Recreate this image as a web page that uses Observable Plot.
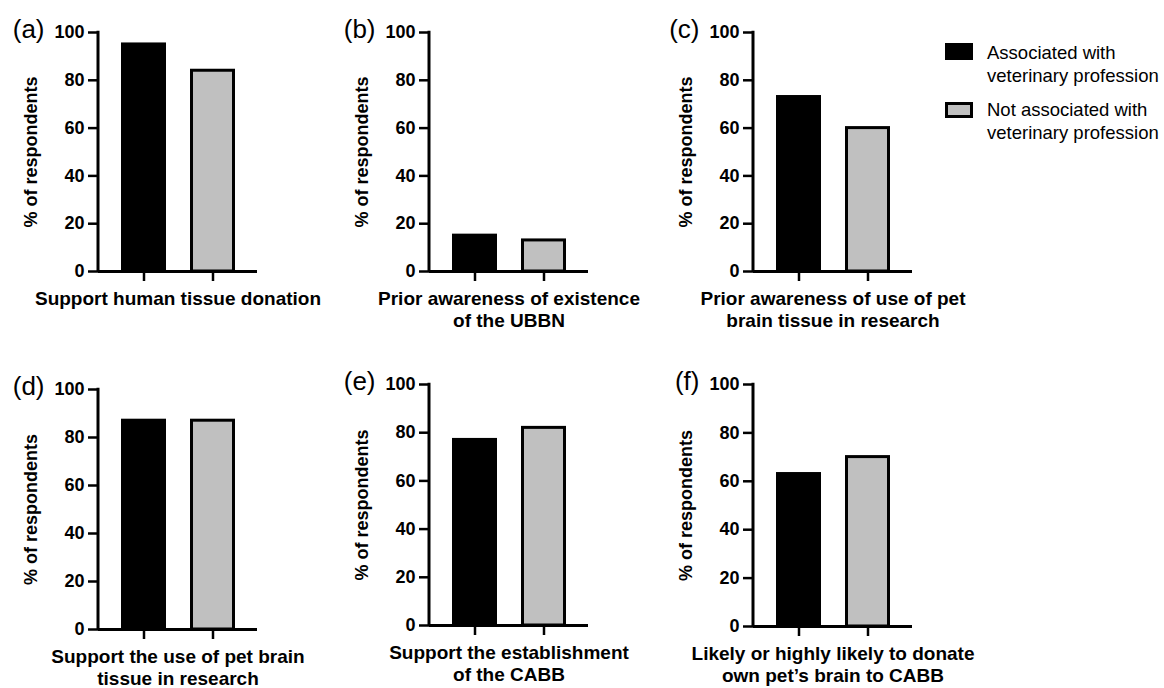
<!DOCTYPE html>
<html><head><meta charset="utf-8">
<script src="https://cdn.jsdelivr.net/npm/d3@7"></script>
<script src="https://cdn.jsdelivr.net/npm/@observablehq/plot@0.6"></script>
<style>
body{margin:0;background:#fff;}
#fig{position:relative;width:1164px;height:688px;overflow:hidden;background:#fff;font-family:"Liberation Sans",Arial,Helvetica,sans-serif;}
#fig svg{position:absolute;}
.sw{position:absolute;box-sizing:border-box;}
.lt{position:absolute;white-space:pre-line;font-size:18.5px;line-height:23px;color:#000;}
</style></head><body><div id="fig"></div>
<script>
// ---- data ----
const groups = ["Associated with veterinary profession", "Not associated with veterinary profession"];
const legendLabels = ["Associated with\nveterinary profession", "Not associated with\nveterinary profession"];
const panelLetters = ["(a)", "(b)", "(c)", "(d)", "(e)", "(f)"];
const questions = [
  "Support human tissue donation",
  "Prior awareness of existence\nof the UBBN",
  "Prior awareness of use of pet\nbrain tissue in research",
  "Support the use of pet brain\ntissue in research",
  "Support the establishment\nof the CABB",
  "Likely or highly likely to donate\nown pet\u2019s brain to CABB"
];
const associated = [95, 15, 73, 87, 77, 63];
const notAssociated = [84, 13, 60, 87, 82, 70];
const yTicks = [0, 20, 40, 60, 80, 100];
const yLabel = "% of respondents";
const colors = ["#000000", "#c0c0c0"];

// ---- layout (page pixels of each panel's y axis, 100 line and 0 line) ----
const layout = [
  {ax: 98, top: 32, bottom: 271},
  {ax: 429, top: 32, bottom: 271},
  {ax: 753, top: 32, bottom: 271},
  {ax: 98, top: 389, bottom: 629},
  {ax: 429, top: 384, bottom: 625},
  {ax: 753, top: 384, bottom: 626}
];
const ML = 98, MR = 100, MT = 32, MB = 70, PW = 159;
const FONT = '"Liberation Sans", Arial, Helvetica, sans-serif';
const fig = document.getElementById("fig");

function leftAxisLine(index, scales, values, dims) {
  return d3.create("svg:line")
    .attr("x1", dims.marginLeft).attr("x2", dims.marginLeft)
    .attr("y1", scales.y(100) - 1.25).attr("y2", scales.y(0))
    .attr("stroke", "black").attr("stroke-width", 3)
    .node();
}

questions.forEach((q, i) => {
  const L = layout[i];
  const data = groups.map((g, j) => ({group: g, value: j === 0 ? associated[i] : notAssociated[i]}));
  const plot = Plot.plot({
    width: ML + PW + MR,
    height: MT + (L.bottom - L.top) + MB,
    marginLeft: ML, marginRight: MR, marginTop: MT, marginBottom: MB,
    style: {background: "transparent", fontFamily: FONT, fontSize: "18px", fontWeight: "bold", color: "black", overflow: "visible"},
    x: {domain: groups, paddingInner: 0.348, paddingOuter: 0.326},
    y: {domain: [0, 100]},
    color: {domain: groups, range: colors},
    marks: [
      Plot.barY(data, {x: "group", y: "value", fill: "group", stroke: "black", strokeWidth: 3, insetLeft: 1.5, insetRight: 1.5}),
      Plot.axisY({ticks: yTicks, tickSize: 10, tickPadding: 4, strokeWidth: 2.5, fontSize: 18, fontWeight: "bold",
                  label: yLabel, labelAnchor: "center", labelOffset: 74, labelArrow: "none"}),
      Plot.axisX({tickSize: 10, tickFormat: () => "", strokeWidth: 2.5, label: null}),
      Plot.ruleY([0], {strokeWidth: 3}),
      leftAxisLine,
      Plot.text([q], {text: d => d, frameAnchor: "bottom", lineAnchor: "top", dy: 18, fontSize: 19, fontWeight: "bold", lineHeight: 1.15}),
      Plot.text([panelLetters[i]], {text: d => d, frameAnchor: "top-left", textAnchor: "end", lineAnchor: "middle", dx: -54, dy: -2.5, fontSize: 26, fontWeight: "normal"})
    ]
  });
  plot.style.left = (L.ax - ML) + "px";
  plot.style.top = (L.top - MT) + "px";
  fig.appendChild(plot);
});

// ---- legend ----
const legPos = [{sy: 43, sh: 17, ty: 41}, {sy: 102, sh: 16, ty: 98}];
groups.forEach((g, j) => {
  const sw = document.createElement("div");
  sw.className = "sw";
  sw.style.left = "945px"; sw.style.top = legPos[j].sy + "px";
  sw.style.width = "28px"; sw.style.height = legPos[j].sh + "px";
  sw.style.background = colors[j];
  sw.style.border = "3px solid #000";
  fig.appendChild(sw);
  const t = document.createElement("div");
  t.className = "lt";
  t.style.left = "987px"; t.style.top = legPos[j].ty + "px";
  t.textContent = legendLabels[j];
  fig.appendChild(t);
});
</script></body></html>
